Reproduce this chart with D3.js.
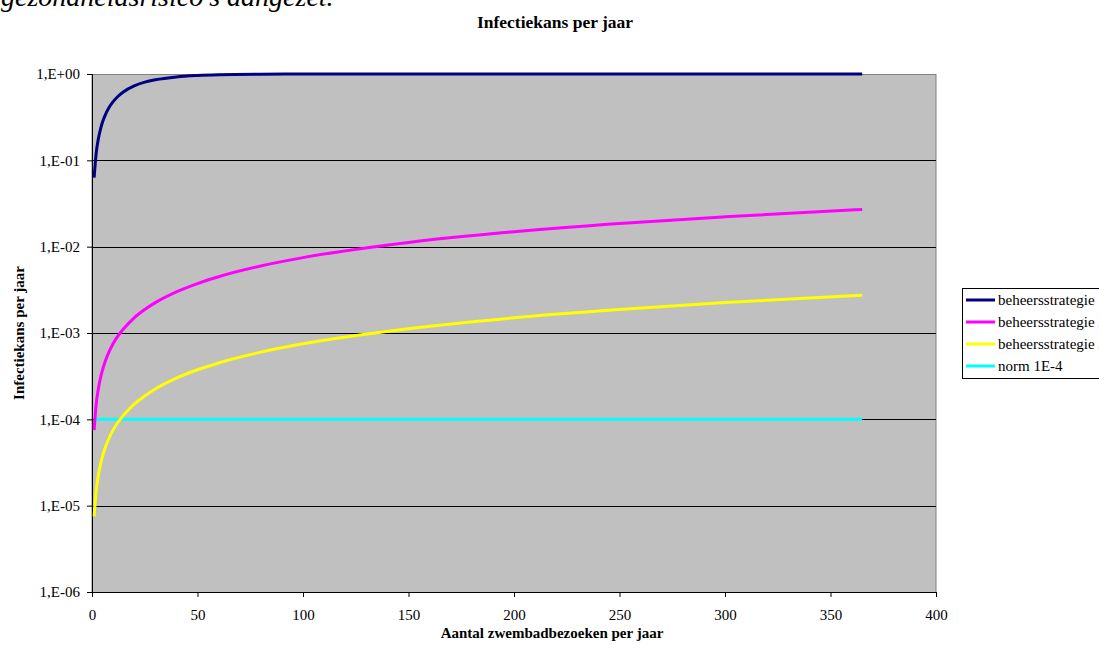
<!DOCTYPE html>
<html><head><meta charset="utf-8">
<script src="https://cdn.jsdelivr.net/npm/d3@7"></script>
<style>body{margin:0;background:#fff}svg{display:block}</style>
</head><body><svg id="c" width="1099" height="649"></svg>
<script>
// Data
const visits = [1,2,3,4,5,6,8,10,12,15,20,25,30,40,50,60,80,100,150,200,250,300,365];
const strat1 = [0.063,0.122,0.177,0.229,0.278,0.323,0.406,0.478,0.542,0.623,0.728,0.804,0.858,0.926,0.961,0.980,0.9945,0.9985,0.99994,1.0,1.0,1.0,1.0];
const strat2 = [7.5e-5,1.5e-4,2.25e-4,3.0e-4,3.75e-4,4.5e-4,6.0e-4,7.5e-4,9.0e-4,1.12e-3,1.5e-3,1.87e-3,2.25e-3,3.0e-3,3.74e-3,4.49e-3,5.98e-3,7.47e-3,1.12e-2,1.49e-2,1.86e-2,2.22e-2,2.70e-2];
const strat3 = [7.5e-6,1.5e-5,2.25e-5,3.0e-5,3.75e-5,4.5e-5,6.0e-5,7.5e-5,9.0e-5,1.12e-4,1.5e-4,1.87e-4,2.25e-4,3.0e-4,3.75e-4,4.5e-4,6.0e-4,7.5e-4,1.12e-3,1.5e-3,1.87e-3,2.25e-3,2.74e-3];
const norm = [1e-4,1e-4];
const normVisits = [1,365];
const seriesNames = ["beheersstrategie 1","beheersstrategie 2","beheersstrategie 3","norm 1E-4"];
const seriesColors = ["#000080","#FF00FF","#FFFF00","#00FFFF"];
const xTicks = [0,50,100,150,200,250,300,350,400];
const yTicks = [1e0,1e-1,1e-2,1e-3,1e-4,1e-5,1e-6];
const yTickLabels = ["1,E+00","1,E-01","1,E-02","1,E-03","1,E-04","1,E-05","1,E-06"];

const FF = "'Liberation Serif','Times New Roman',serif";
const svg = d3.select("#c");
const L=92, R=936, T=74, B=592;
const x = d3.scaleLinear().domain([0,400]).range([L,R]);
const y = d3.scaleLog().domain([1e-6,1]).range([B,T]);

// header text (cut off at the top in the reference)
svg.append("text").attr("x",1).attr("y",6).attr("font-family",FF).attr("font-size",28)
  .attr("font-style","italic").attr("fill","#000").text("gezondheidsrisico's aangezet.");

// plot area
svg.append("rect").attr("x",L).attr("y",T+0.5).attr("width",R-L).attr("height",B-T)
  .attr("fill","#C0C0C0").attr("stroke","#808080").attr("stroke-width",1);

// grid
svg.append("g").selectAll("line").data(yTicks.slice(1,-1)).join("line")
  .attr("x1",L).attr("x2",R).attr("y1",d=>Math.round(y(d))+0.5).attr("y2",d=>Math.round(y(d))+0.5)
  .attr("stroke","#000").attr("stroke-width",1);

// axes
const gx = svg.append("g").attr("transform",`translate(0,${B})`)
  .call(d3.axisBottom(x).tickValues(xTicks).tickSize(5).tickPadding(12).tickFormat(d3.format("d")));
const gy = svg.append("g").attr("transform",`translate(${L},0)`)
  .call(d3.axisLeft(y).tickValues(yTicks).tickSize(5).tickPadding(7).tickFormat((d,i)=>yTickLabels[i]));
[gx,gy].forEach(g=>{
  g.select(".domain").attr("stroke","#000");
  g.selectAll(".tick line").attr("stroke","#000");
  g.selectAll("text").attr("font-family",FF).attr("font-size",15).attr("fill","#000");
});

// lines
const line = d3.line().x(d=>x(d[0])).y(d=>y(d[1])).curve(d3.curveMonotoneX);
const data = [
  d3.zip(visits,strat1), d3.zip(visits,strat2), d3.zip(visits,strat3), d3.zip(normVisits,norm)
];
[3,2,1,0].forEach(i=>{
  svg.append("path").datum(data[i]).attr("d",line).attr("fill","none")
    .attr("stroke",seriesColors[i]).attr("stroke-width",3);
});

// titles
svg.append("text").attr("x",555).attr("y",28).attr("text-anchor","middle").attr("font-family",FF)
  .attr("font-size",17.5).attr("font-weight","bold").text("Infectiekans per jaar");
svg.append("text").attr("x",552).attr("y",638).attr("text-anchor","middle").attr("font-family",FF)
  .attr("font-size",15).attr("font-weight","bold").text("Aantal zwembadbezoeken per jaar");
svg.append("text").attr("transform","translate(24,333) rotate(-90)").attr("text-anchor","middle")
  .attr("font-family",FF).attr("font-size",15).attr("font-weight","bold").text("Infectiekans per jaar");

// legend
const lg = svg.append("g");
lg.append("rect").attr("x",962.5).attr("y",288.5).attr("width",150).attr("height",90)
  .attr("fill","#fff").attr("stroke","#000").attr("stroke-width",1);
seriesNames.forEach((n,i)=>{
  const yy = 300 + i*22;
  lg.append("line").attr("x1",966).attr("x2",995).attr("y1",yy).attr("y2",yy)
    .attr("stroke",seriesColors[i]).attr("stroke-width",3);
  lg.append("text").attr("x",998).attr("y",yy+5).attr("font-family",FF).attr("font-size",15).text(n);
});
</script></body></html>
